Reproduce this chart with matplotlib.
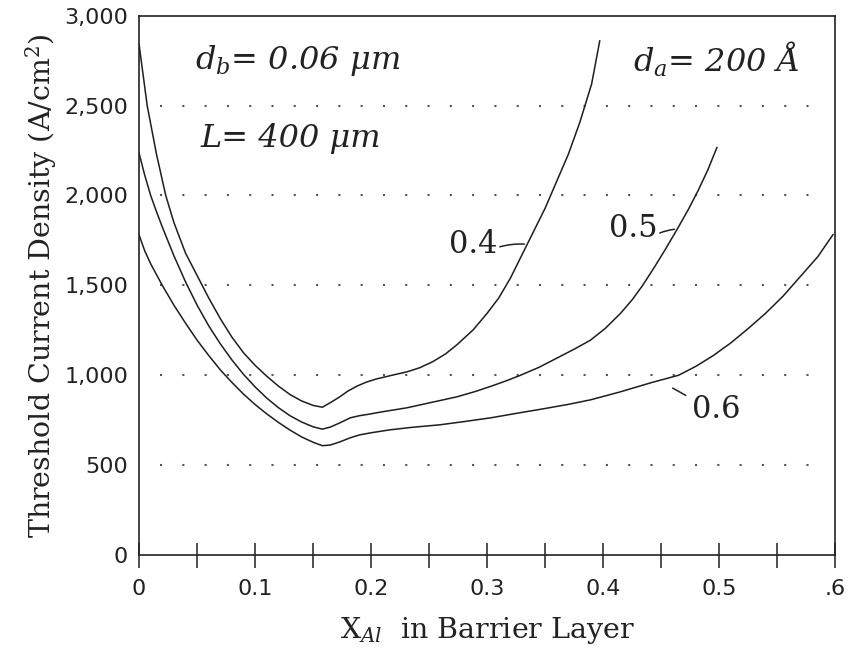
import numpy as np
import matplotlib
matplotlib.use("Agg")
import matplotlib.pyplot as plt

plt.rcParams['mathtext.fontset'] = 'dejavuserif'

# X_Al values and threshold current density (A/cm^2)
x_04 = [0.000, 0.007, 0.015, 0.023, 0.030, 0.040, 0.050, 0.060, 0.070, 0.080,
        0.090, 0.100, 0.110, 0.120, 0.130, 0.140, 0.150, 0.158, 0.165, 0.173,
        0.180, 0.188, 0.196, 0.205, 0.218, 0.231, 0.242, 0.253, 0.264, 0.274,
        0.288, 0.300, 0.310, 0.320, 0.330, 0.340, 0.350, 0.360, 0.370, 0.380,
        0.390, 0.397]
j_04 = [2840, 2500, 2230, 2000, 1850, 1680, 1555, 1430, 1315, 1212,
        1125, 1055, 995, 940, 893, 857, 832, 822, 848, 880,
        912, 940, 962, 980, 1000, 1019, 1042, 1075, 1118, 1170,
        1253, 1345, 1430, 1540, 1670, 1800, 1930, 2080, 2230, 2410,
        2620, 2860]

x_05 = [0.000, 0.005, 0.010, 0.015, 0.020, 0.030, 0.040, 0.050, 0.060, 0.070,
        0.080, 0.090, 0.100, 0.110, 0.120, 0.130, 0.140, 0.150, 0.158, 0.165,
        0.173, 0.182, 0.190, 0.197, 0.210, 0.231, 0.250, 0.274, 0.290, 0.303,
        0.316, 0.328, 0.345, 0.360, 0.375, 0.389, 0.402, 0.415, 0.425, 0.434,
        0.444, 0.454, 0.464, 0.474, 0.482, 0.490, 0.498]
j_05 = [2235, 2110, 2000, 1910, 1825, 1665, 1520, 1390, 1275, 1175,
        1085, 1005, 935, 873, 820, 775, 740, 713, 700, 712,
        735, 763, 775, 782, 797, 819, 846, 880, 910, 938,
        968, 998, 1045, 1095, 1145, 1195, 1262, 1345, 1420, 1500,
        1600, 1705, 1815, 1930, 2030, 2140, 2267]

x_06 = [0.000, 0.005, 0.010, 0.020, 0.030, 0.040, 0.050, 0.060, 0.070, 0.080,
        0.090, 0.100, 0.110, 0.120, 0.130, 0.140, 0.150, 0.158, 0.165, 0.173,
        0.182, 0.190, 0.200, 0.216, 0.235, 0.259, 0.280, 0.303, 0.328, 0.350,
        0.370, 0.389, 0.415, 0.441, 0.465, 0.480, 0.495, 0.510, 0.525, 0.540,
        0.555, 0.570, 0.585, 0.598]
j_06 = [1780, 1690, 1620, 1500, 1390, 1290, 1195, 1110, 1030, 960,
        895, 837, 785, 738, 695, 657, 627, 608, 612, 629,
        652, 668, 680, 696, 710, 724, 742, 763, 791, 815,
        838, 863, 908, 958, 1000, 1050, 1110, 1180, 1260, 1345,
        1440, 1550, 1660, 1782]

y_ticks = [0, 500, 1000, 1500, 2000, 2500, 3000]
y_tick_labels = ['0', '500', '1,000', '1,500', '2,000', '2,500', '3,000']
x_ticks = [0, 0.1, 0.2, 0.3, 0.4, 0.5, 0.6]
x_tick_labels = ['0', '0.1', '0.2', '0.3', '0.4', '0.5', '.6']
x_minor = [0.05, 0.15, 0.25, 0.35, 0.45, 0.55]
grid_levels = [500, 1000, 1500, 2000, 2500]

fig = plt.figure(figsize=(8.48, 6.56), dpi=100)
ax = fig.add_axes([0.164, 0.154, 0.821, 0.822])

ax.hlines(grid_levels, 0.018, 0.587, colors='#555555', lw=1.5,
          linestyles=[(0, (1, 9.7))])

for xs, js in [(x_04, j_04), (x_05, j_05), (x_06, j_06)]:
    ax.plot(xs, js, color='#1e1e1e', lw=1.1)

ax.set_xlim(0, 0.6)
ax.set_ylim(0, 3000)

ax.set_yticks(y_ticks)
ax.set_yticklabels(y_tick_labels)
ax.set_xticks(x_ticks)
ax.set_xticklabels(x_tick_labels)
ax.set_xticks(x_minor, minor=True)

ax.tick_params(axis='y', length=0, pad=8, labelsize=16, labelcolor='#222222')
ax.tick_params(axis='x', which='both', direction='inout', length=18, width=1.1,
               color='#222222')
ax.tick_params(axis='x', which='major', pad=8, labelsize=16, labelcolor='#222222')

for s in ax.spines.values():
    s.set_linewidth(1.2)
    s.set_color('#222222')

serif = 'DejaVu Serif'
ax.set_ylabel('Threshold Current Density (A/cm$^2$)', family=serif,
              fontsize=20.5, color='#222222', labelpad=4)
ax.set_xlabel('X$_{Al}$  in Barrier Layer', family=serif, fontsize=20.5,
              color='#222222', labelpad=12)

ax.text(0.048, 2701, 'd$_b$= 0.06 μm', family=serif, style='italic',
        fontsize=23, color='#222222', va='baseline')
ax.text(0.0526, 2267, 'L= 400 μm', family=serif, style='italic',
        fontsize=23, color='#222222', va='baseline')
ax.text(0.4259, 2690, 'd$_a$= 200 Å', family=serif, style='italic',
        fontsize=23, color='#222222', va='baseline')

# curve labels with short leader lines
ax.text(0.288, 1727, '0.4', family=serif, fontsize=22, color='#222222',
        ha='center', va='center')
ax.annotate('', xy=(0.3345, np.interp(0.3345, x_04, j_04)), xytext=(0.3086, 1710),
            arrowprops=dict(arrowstyle='-', color='#222222', lw=1.1,
                            connectionstyle='arc3,rad=-0.1'))
ax.text(0.426, 1816, '0.5', family=serif, fontsize=22, color='#222222',
        ha='center', va='center')
ax.annotate('', xy=(0.4638, np.interp(0.4638, x_05, j_05)), xytext=(0.4466, 1785),
            arrowprops=dict(arrowstyle='-', color='#222222', lw=1.1,
                            connectionstyle='arc3,rad=-0.1'))
ax.text(0.497, 808, '0.6', family=serif, fontsize=22, color='#222222',
        ha='center', va='center')
ax.annotate('', xy=(0.4733, 880), xytext=(0.4578, 936),
            arrowprops=dict(arrowstyle='-', color='#222222', lw=1.1))

fig.savefig('out.png', dpi=100, facecolor='white')
